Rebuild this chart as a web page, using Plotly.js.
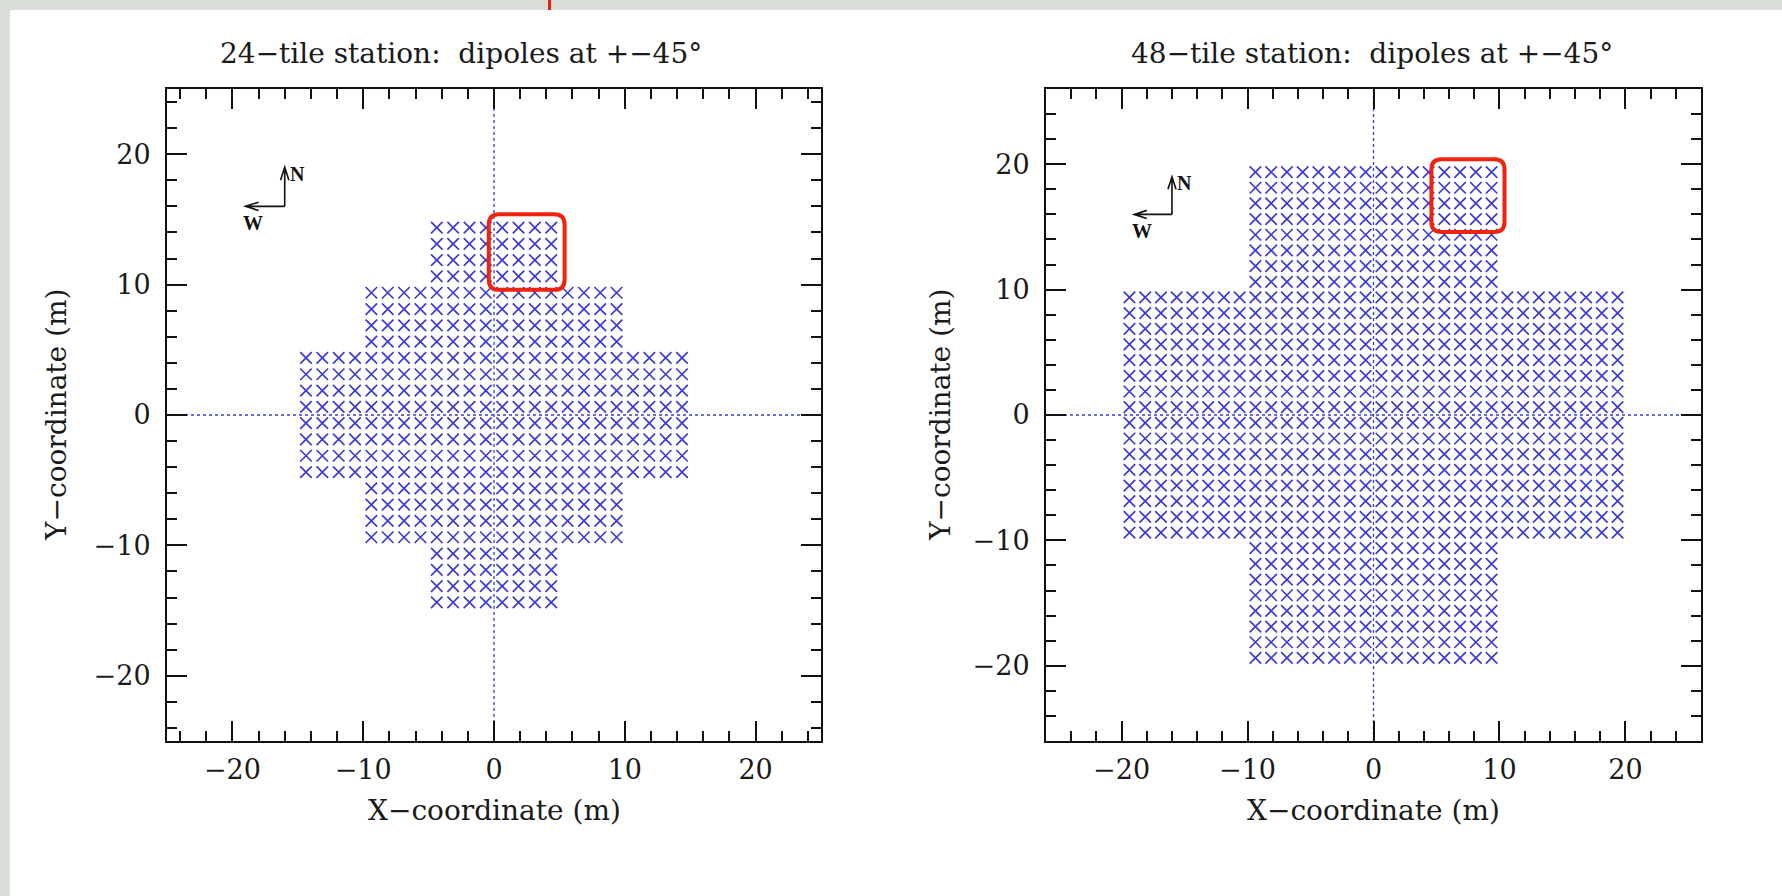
<!DOCTYPE html>
<html>
<head>
<meta charset="utf-8">
<script src="https://cdn.plot.ly/plotly-3.0.1.min.js"></script>
<style>
  html, body { margin: 0; padding: 0; background: #d9ded9; overflow: hidden; }
  #sheet { position: absolute; left: 10px; top: 10px; width: 1772px; height: 886px; background: #ffffff; }
  #pointer { position: absolute; left: 548px; top: 0; width: 3px; height: 10px; background: #ee1c12; }
  #plot { position: absolute; left: 0; top: 0; width: 1782px; height: 896px; }
</style>
</head>
<body>
<div id="sheet"></div>
<div id="pointer"></div>
<div id="plot"></div>
<script>
// Dipole positions inside one 5 m tile (4 x 4 grid, 1.25 m pitch)
const tileSize = 5;
const dipoleOffsets = [0.625, 1.875, 3.125, 4.375];

// Lower-left corners of the tiles, 24-tile station
const tiles24X = [-5, 0,
                  -10, -5, 0, 5,
                  -15, -10, -5, 0, 5, 10,
                  -15, -10, -5, 0, 5, 10,
                  -10, -5, 0, 5,
                  -5, 0];
const tiles24Y = [10, 10,
                  5, 5, 5, 5,
                  0, 0, 0, 0, 0, 0,
                  -5, -5, -5, -5, -5, -5,
                  -10, -10, -10, -10,
                  -15, -15];

// Lower-left corners of the tiles, 48-tile station
const tiles48X = [-10, -5, 0, 5,
                  -10, -5, 0, 5,
                  -20, -15, -10, -5, 0, 5, 10, 15,
                  -20, -15, -10, -5, 0, 5, 10, 15,
                  -20, -15, -10, -5, 0, 5, 10, 15,
                  -20, -15, -10, -5, 0, 5, 10, 15,
                  -10, -5, 0, 5,
                  -10, -5, 0, 5];
const tiles48Y = [15, 15, 15, 15,
                  10, 10, 10, 10,
                  5, 5, 5, 5, 5, 5, 5, 5,
                  0, 0, 0, 0, 0, 0, 0, 0,
                  -5, -5, -5, -5, -5, -5, -5, -5,
                  -10, -10, -10, -10, -10, -10, -10, -10,
                  -15, -15, -15, -15,
                  -20, -20, -20, -20];

// Highlighted tile (lower-left corner) in each station
const highlight24 = [0, 10];
const highlight48 = [5, 15];

// Axis ranges and titles
const range24 = [-25, 25];
const range48 = [-26, 26];
const titles = ['24\u2212tile station:\u00a0 dipoles at +\u221245\u00b0',
                '48\u2212tile station:\u00a0 dipoles at +\u221245\u00b0'];
const xTitle = 'X\u2212coordinate (m)';
const yTitle = 'Y\u2212coordinate (m)';

// Compass: corner and arm length (metres)
const compassCorner = [-16, 16];
const compassArm = 3;

const W = 1782, H = 896;
const inkBlue = '#3c3cd4';
const textFont = 'DejaVu Serif, serif';

function expandTiles(tx, ty) {
  const xs = [], ys = [];
  tx.forEach((x0, i) => {
    const y0 = ty[i];
    dipoleOffsets.forEach(dy => {
      dipoleOffsets.forEach(dx => { xs.push(x0 + dx); ys.push(y0 + dy); });
    });
  });
  return { xs, ys };
}

function roundedBox(x0, y0, x1, y1, r) {
  return `M${x0 + r},${y0} L${x1 - r},${y0} Q${x1},${y0} ${x1},${y0 + r} ` +
         `L${x1},${y1 - r} Q${x1},${y1} ${x1 - r},${y1} L${x0 + r},${y1} ` +
         `Q${x0},${y1} ${x0},${y1 - r} L${x0},${y0 + r} Q${x0},${y0} ${x0 + r},${y0} Z`;
}

const st24 = expandTiles(tiles24X, tiles24Y);
const st48 = expandTiles(tiles48X, tiles48Y);

const markerStyle = {
  symbol: 'x-thin',
  size: 11.5,
  color: inkBlue,
  line: { width: 1.7, color: inkBlue }
};

const traces = [
  { type: 'scatter', mode: 'markers', x: st24.xs, y: st24.ys, xaxis: 'x', yaxis: 'y',
    marker: markerStyle, hoverinfo: 'x+y', showlegend: false },
  { type: 'scatter', mode: 'markers', x: st48.xs, y: st48.ys, xaxis: 'x2', yaxis: 'y2',
    marker: markerStyle, hoverinfo: 'x+y', showlegend: false }
];

function axisStyle(range, domain, anchor, isX) {
  return {
    range: range, domain: domain, anchor: anchor, fixedrange: true,
    tickmode: 'linear', tick0: 0, dtick: 10,
    ticks: 'inside', ticklen: 20, tickwidth: 1.5, tickcolor: '#111',
    minor: { ticks: 'inside', tickmode: 'linear', tick0: 0, dtick: 2, ticklen: 10, tickwidth: 1.5, tickcolor: '#111' },
    showline: true, linewidth: 2, linecolor: '#111', mirror: 'allticks',
    showgrid: false, zeroline: false,
    tickfont: { family: textFont, size: 27, color: '#1a1a1a' },
    ticklabelstandoff: isX ? 4 : 9
  };
}

const px = v => v / W;
const py = v => 1 - v / H;

const dom24x = [px(167), px(821)];
const dom48x = [px(1046), px(1701)];
const domY = [py(741), py(89)];

const layout = {
  width: W, height: H,
  margin: { l: 0, r: 0, t: 0, b: 0 },
  paper_bgcolor: 'rgba(0,0,0,0)',
  plot_bgcolor: '#ffffff',
  xaxis: axisStyle(range24, dom24x, 'y', true),
  yaxis: axisStyle(range24, domY, 'x', false),
  xaxis2: axisStyle(range48, dom48x, 'y2', true),
  yaxis2: axisStyle(range48, domY, 'x2', false),
  shapes: [],
  annotations: []
};

function addPanel(xr, yr, range, highlight, titleText, titleX) {
  // dotted reference lines through the origin
  layout.shapes.push({ type: 'line', xref: xr, yref: yr, x0: range[0], x1: range[1], y0: 0, y1: 0,
    layer: 'below', line: { color: inkBlue, width: 1.3, dash: 'dot' } });
  layout.shapes.push({ type: 'line', xref: xr, yref: yr, x0: 0, x1: 0, y0: range[0], y1: range[1],
    layer: 'below', line: { color: inkBlue, width: 1.3, dash: 'dot' } });
  // highlighted tile
  const pad = 0.4;
  layout.shapes.push({ type: 'path', xref: xr, yref: yr,
    path: roundedBox(highlight[0] - pad, highlight[1] - pad,
                     highlight[0] + tileSize + pad, highlight[1] + tileSize + pad, 0.8),
    line: { color: '#f0230f', width: 4 } });
  // compass arrows
  const cx = compassCorner[0], cy = compassCorner[1], a = compassArm;
  const ink = { color: '#111', width: 1.6 };
  layout.shapes.push({ type: 'path', xref: xr, yref: yr, line: ink,
    path: `M${cx},${cy} L${cx},${cy + a} M${cx - 0.32},${cy + a - 1.0} L${cx},${cy + a} L${cx + 0.32},${cy + a - 1.0}` });
  layout.shapes.push({ type: 'path', xref: xr, yref: yr, line: ink,
    path: `M${cx},${cy} L${cx - a},${cy} M${cx - a + 1.0},${cy + 0.32} L${cx - a},${cy} L${cx - a + 1.0},${cy - 0.32}` });
  const compassFont = { family: 'Liberation Serif, serif', size: 20, weight: 'bold', color: '#111' };
  layout.annotations.push({ xref: xr, yref: yr, x: cx + 0.25, y: cy + a - 0.5, xanchor: 'left', yanchor: 'middle',
    text: 'N', showarrow: false, font: compassFont });
  layout.annotations.push({ xref: xr, yref: yr, x: cx - a + 0.6, y: cy - 0.3, xanchor: 'center', yanchor: 'top',
    text: 'W', showarrow: false, font: compassFont });
  // panel title
  layout.annotations.push({ xref: 'paper', yref: 'paper', x: px(titleX), y: py(54), xanchor: 'center', yanchor: 'middle',
    text: titleText, showarrow: false, font: { family: textFont, size: 28, color: '#1a1a1a' } });
}

addPanel('x', 'y', range24, highlight24, titles[0], 461);
addPanel('x2', 'y2', range48, highlight48, titles[1], 1372);

// axis titles
const axisTitleFont = { family: textFont, size: 28, color: '#1a1a1a' };
layout.annotations.push({ xref: 'paper', yref: 'paper', x: (dom24x[0] + dom24x[1]) / 2, y: py(810),
  xanchor: 'center', yanchor: 'middle', text: xTitle, showarrow: false, font: axisTitleFont });
layout.annotations.push({ xref: 'paper', yref: 'paper', x: (dom48x[0] + dom48x[1]) / 2, y: py(810),
  xanchor: 'center', yanchor: 'middle', text: xTitle, showarrow: false, font: axisTitleFont });
layout.annotations.push({ xref: 'paper', yref: 'paper', x: px(57), y: (domY[0] + domY[1]) / 2,
  xanchor: 'center', yanchor: 'middle', textangle: -90, text: yTitle, showarrow: false, font: axisTitleFont });
layout.annotations.push({ xref: 'paper', yref: 'paper', x: px(941), y: (domY[0] + domY[1]) / 2,
  xanchor: 'center', yanchor: 'middle', textangle: -90, text: yTitle, showarrow: false, font: axisTitleFont });

Plotly.newPlot('plot', traces, layout, { displayModeBar: false });
</script>
</body>
</html>
